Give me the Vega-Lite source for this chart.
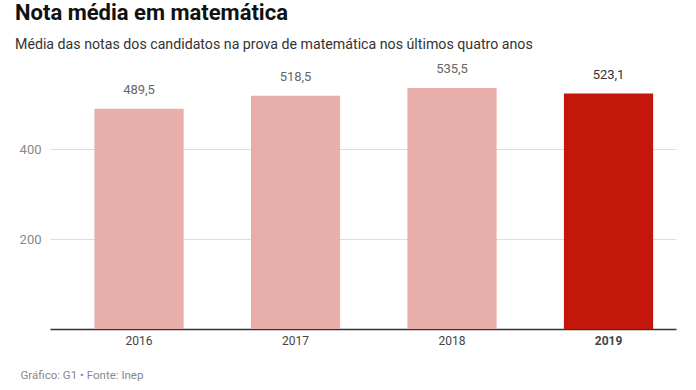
{
  "$schema": "https://vega.github.io/schema/vega-lite/v6.json",
  "width": 626,
  "height": 270,
  "autosize": "none",
  "padding": {"left": 50, "top": 59, "right": 20, "bottom": 61},
  "background": "white",
  "config": {
    "view": {"stroke": null},
    "font": "Roboto",
    "locale": {"number": {"decimal": ",", "thousands": ".", "grouping": [3], "currency": ["R$", ""]}}
  },
  "title": {
    "text": "Nota média em matemática",
    "subtitle": "Média das notas dos candidatos na prova de matemática nos últimos quatro anos",
    "anchor": "start",
    "frame": "group",
    "dx": -35,
    "offset": 6,
    "font": "Roboto",
    "fontSize": 22,
    "fontWeight": "bold",
    "color": "#111111",
    "subtitleFont": "Roboto",
    "subtitleFontSize": 14.2,
    "subtitleColor": "#333333",
    "subtitlePadding": 13
  },
  "data": {
    "values": [
      {"ano": "2016", "nota": 489.5},
      {"ano": "2017", "nota": 518.5},
      {"ano": "2018", "nota": 535.5},
      {"ano": "2019", "nota": 523.1}
    ]
  },
  "encoding": {
    "x": {
      "field": "ano",
      "type": "nominal",
      "sort": null,
      "scale": {"paddingInner": 0.43, "paddingOuter": 0.215, "align": 0.66},
      "axis": {
        "title": "Gráfico: G1 • Fonte: Inep",
        "titleAnchor": "start",
        "titleAlign": "left",
        "titleX": -30,
        "titleY": 49,
        "titleBaseline": "alphabetic",
        "titleFont": "Roboto",
        "titleFontSize": 11.5,
        "titleFontWeight": "normal",
        "titleColor": "#888888",
        "labelAngle": 0,
        "labelFont": "Roboto",
        "labelFontSize": 12,
        "labelColor": "#444444",
        "labelPadding": 6,
        "labelFontWeight": {"condition": {"test": "datum.value == '2019'", "value": "bold"}, "value": "normal"},
        "ticks": false,
        "domainColor": "#333333",
        "domainWidth": 1.5,
        "grid": false
      }
    },
    "y": {
      "field": "nota",
      "type": "quantitative",
      "scale": {"domain": [0, 600], "nice": false},
      "axis": {
        "title": null,
        "values": [200, 400],
        "domain": false,
        "ticks": false,
        "labelFont": "Roboto",
        "labelFontSize": 13,
        "labelColor": "#888888",
        "labelPadding": 9,
        "gridColor": "#dddddd",
        "gridWidth": 1
      }
    }
  },
  "layer": [
    {
      "mark": {"type": "bar"},
      "encoding": {
        "color": {
          "condition": {"test": "datum.ano == '2019'", "value": "#c4170c"},
          "value": "#e8aeaa"
        }
      }
    },
    {
      "mark": {"type": "text", "baseline": "alphabetic", "dy": -15, "fontSize": 13, "font": "Roboto"},
      "encoding": {
        "text": {"field": "nota", "type": "quantitative", "format": ".1f"},
        "color": {
          "condition": {"test": "datum.ano == '2019'", "value": "#333333"},
          "value": "#666666"
        },
        "fontWeight": {
          "condition": {"test": "datum.ano == '2019'", "value": "bold"},
          "value": "normal"
        }
      }
    }
  ]
}
